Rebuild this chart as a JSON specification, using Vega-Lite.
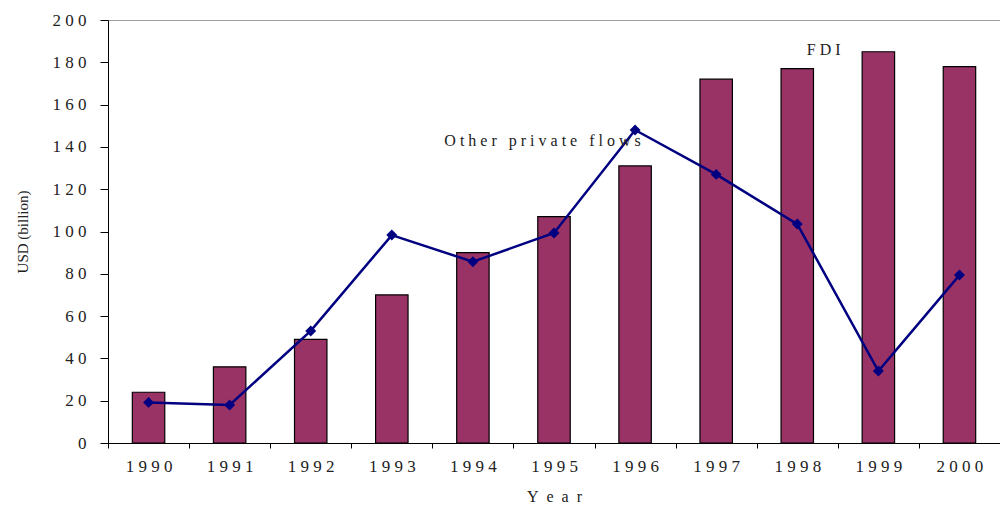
{
  "$schema": "https://vega.github.io/schema/vega-lite/v6.json",
  "width": 892,
  "height": 423,
  "autosize": {"type": "none"},
  "padding": {"left": 108, "top": 20, "right": 0, "bottom": 65},
  "background": "white",
  "config": {
    "view": {"stroke": "#a0a0a0", "strokeWidth": 1},
    "font": "Liberation Serif",
    "axis": {"labelFont": "Liberation Serif", "titleFont": "Liberation Serif", "labelColor": "#222", "titleColor": "#222", "titleFontWeight": "normal", "domainColor": "#000", "tickColor": "#000", "grid": false}
  },
  "datasets": {
    "flows": [
      {"year": "1990", "fdi": 24, "other": 19.2},
      {"year": "1991", "fdi": 36, "other": 18.0},
      {"year": "1992", "fdi": 49, "other": 53.0},
      {"year": "1993", "fdi": 70, "other": 98.3},
      {"year": "1994", "fdi": 90, "other": 85.7},
      {"year": "1995", "fdi": 107, "other": 99.3},
      {"year": "1996", "fdi": 131, "other": 148},
      {"year": "1997", "fdi": 172, "other": 127},
      {"year": "1998", "fdi": 177, "other": 103.5},
      {"year": "1999", "fdi": 185, "other": 34},
      {"year": "2000", "fdi": 178, "other": 79.4}
    ],
    "notes": [
      {"year": "1998", "value": 186, "label": "F D I", "shift": 50},
      {"year": "1994", "value": 143, "label": "O t h e r\u00a0\u00a0 p r i v a t e\u00a0\u00a0 f l o w s", "shift": 12}
    ]
  },
  "layer": [
    {
      "data": {"name": "flows"},
      "mark": {"type": "bar", "width": {"band": 0.4}, "fill": "#993366", "stroke": "#000", "strokeWidth": 1.2},
      "encoding": {
        "x": {
          "field": "year", "type": "ordinal",
          "scale": {"paddingInner": 0, "paddingOuter": 0},
          "axis": {"title": "Y\u00a0 e\u00a0 a\u00a0 r", "titleFontSize": 16, "titlePadding": 14, "labelAngle": 0, "labelFontSize": 17, "labelPadding": 10, "tickBand": "extent", "tickSize": 5, "labelExpr": "join(split(datum.label, ''), ' ')"}
        },
        "y": {
          "field": "fdi", "type": "quantitative",
          "scale": {"domain": [0, 200], "nice": false},
          "axis": {"title": "USD (billion)", "titleFontSize": 15, "titlePadding": 22, "values": [0, 20, 40, 60, 80, 100, 120, 140, 160, 180, 200], "labelFontSize": 17, "labelPadding": 14, "tickSize": 8, "labelExpr": "join(split(datum.label, ''), ' ')"}
        }
      }
    },
    {
      "data": {"name": "flows"},
      "mark": {"type": "line", "color": "#000080", "strokeWidth": 2.5, "point": {"shape": "diamond", "filled": true, "size": 120, "color": "#000080"}},
      "encoding": {
        "x": {"field": "year", "type": "ordinal"},
        "y": {"field": "other", "type": "quantitative"}
      }
    },
    {
      "data": {"name": "notes"},
      "mark": {"type": "text", "font": "Liberation Serif", "fontSize": 16, "color": "#222", "align": "left", "baseline": "middle"},
      "encoding": {
        "x": {"field": "year", "type": "ordinal"},
        "y": {"field": "value", "type": "quantitative"},
        "text": {"field": "label"},
        "xOffset": {"field": "shift", "type": "quantitative", "scale": null}
      }
    }
  ]
}
